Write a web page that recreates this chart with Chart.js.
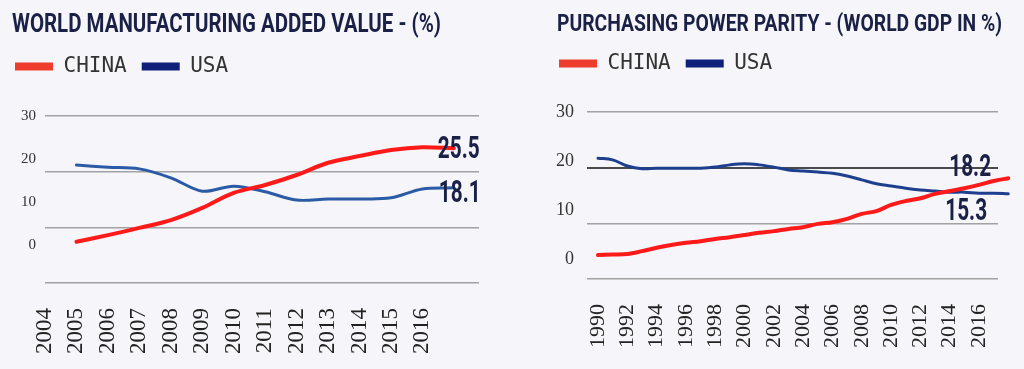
<!DOCTYPE html>
<html>
<head>
<meta charset="utf-8">
<script src="https://cdn.jsdelivr.net/npm/chart.js@4.4.1/dist/chart.umd.min.js"></script>
<style>
  html, body { margin: 0; padding: 0; background: #f5f5fa; }
  body { width: 1024px; height: 369px; position: relative; overflow: hidden; }
  .panel { position: absolute; top: 0; width: 512px; height: 369px; }
  .title {
    position: absolute; z-index: 2; white-space: nowrap; line-height: 1;
    font-family: Roboto, sans-serif; font-weight: 700; color: #1b2146;
    transform-origin: 0 0;
  }
</style>
</head>
<body>
<div class="panel" style="left:0"><canvas id="mfg"></canvas></div>
<div class="panel" style="left:512px"><canvas id="ppp"></canvas></div>
<div class="title" data-width="429" style="left:12px;top:11px;font-size:25px">WORLD MANUFACTURING ADDED VALUE - (%)</div>
<div class="title" data-width="445" style="left:557px;top:11px;font-size:24px">PURCHASING POWER PARITY - (WORLD GDP IN %)</div>
<script>
const seriesNames = ["CHINA", "USA"];
const valueTicks = [0, 10, 20, 30];

// left: world manufacturing added value (%)
const mfgYears = [2005, 2006, 2007, 2008, 2009, 2010, 2011, 2012, 2013, 2014, 2015, 2016, 2017];
const mfgChina = [7.4, 8.6, 9.9, 11.3, 13.5, 16.2, 17.6, 19.4, 21.6, 22.8, 23.9, 24.4, 24.2];
const mfgUsa = [21.2, 20.8, 20.5, 18.9, 16.5, 17.4, 16.4, 14.9, 15.1, 15.1, 15.3, 16.9, 17.1];
const mfgTickYears = [2004, 2005, 2006, 2007, 2008, 2009, 2010, 2011, 2012, 2013, 2014, 2015, 2016];
const mfgEndLabels = ["25.5", "18.1"];

// right: purchasing power parity (world gdp in %)
const pppYears = [1990, 1991, 1992, 1993, 1994, 1995, 1996, 1997, 1998, 1999, 2000, 2001, 2002, 2003, 2004,
  2005, 2006, 2007, 2008, 2009, 2010, 2011, 2012, 2013, 2014, 2015, 2016, 2017, 2018];
const pppChina = [4.3, 4.4, 4.5, 5.0, 5.6, 6.1, 6.5, 6.8, 7.2, 7.5, 7.9, 8.3, 8.6, 9.0, 9.3,
  9.9, 10.2, 10.8, 11.7, 12.2, 13.3, 14.0, 14.5, 15.3, 15.8, 16.3, 16.9, 17.6, 18.1];
const pppUsa = [21.7, 21.4, 20.3, 19.8, 19.9, 19.9, 19.9, 19.9, 20.1, 20.5, 20.7, 20.5, 20.1, 19.6, 19.4,
  19.2, 19.0, 18.5, 17.8, 17.1, 16.7, 16.3, 16.0, 15.8, 15.6, 15.6, 15.4, 15.4, 15.3];
const pppTickYears = [1990, 1992, 1994, 1996, 1998, 2000, 2002, 2004, 2006, 2008, 2010, 2012, 2014, 2016];
const pppEndLabels = ["18.2", "15.3"];

const swatchColors = ["#ee3d2d", "#10207a"];

document.querySelectorAll(".title").forEach(el => {
    const w = el.getBoundingClientRect().width;
    el.style.transform = `scaleX(${el.dataset.width / w})`;
});

const endLabels = {
    id: "endLabels",
    afterDatasetsDraw(chart, args, opts) {
        const ctx = chart.ctx;
        opts.items.forEach(item => {
            const pts = chart.getDatasetMeta(item.dataset).data;
            const pt = pts[pts.length - 1];
            ctx.save();
            ctx.font = "bold 32px Roboto";
            ctx.fillStyle = "#1b2146";
            ctx.textBaseline = "middle";
            ctx.translate(pt.x + item.dx, pt.y + item.dy);
            ctx.scale(0.65, 1);
            ctx.fillText(item.text, 0, 0);
            ctx.restore();
        });
    }
};

function makeChart(id, s) {
    // stretch the legend box so the plot starts lower
    const legendGap = {
        id: "legendGap",
        beforeInit(chart) {
            const fit = chart.legend.fit;
            chart.legend.fit = function () {
                fit.call(this);
                this.height += s.legendExtra;
            };
        }
    };

    return new Chart(document.getElementById(id), {
        type: "line",
        data: {
            datasets: [
                {
                    label: seriesNames[0],
                    data: s.years.map((x, i) => ({ x, y: s.china[i] })),
                    borderColor: "#ff1a1a",
                    borderWidth: 4
                },
                {
                    label: seriesNames[1],
                    data: s.years.map((x, i) => ({ x, y: s.usa[i] })),
                    borderColor: s.usaColor,
                    borderWidth: 3
                }
            ]
        },
        options: {
            responsive: true,
            maintainAspectRatio: false,
            animation: false,
            clip: false,
            layout: { padding: s.padding },
            elements: {
                point: { radius: 0 },
                line: { tension: 0.35, borderCapStyle: "round" }
            },
            plugins: {
                tooltip: { enabled: false },
                legend: {
                    position: "top",
                    align: "start",
                    labels: {
                        boxWidth: 38,
                        boxHeight: 8,
                        padding: 15,
                        color: "#333",
                        font: { family: "'DejaVu Sans Mono', monospace", size: 21 },
                        generateLabels: chart =>
                            Chart.defaults.plugins.legend.labels.generateLabels(chart).map((item, i) => ({
                                ...item,
                                fillStyle: swatchColors[i],
                                strokeStyle: swatchColors[i],
                                lineWidth: 0
                            }))
                    }
                },
                endLabels: { items: s.endLabels }
            },
            scales: {
                x: {
                    type: "linear",
                    min: s.xMin,
                    max: s.xMax,
                    afterBuildTicks: sc => { sc.ticks = s.tickYears.map(v => ({ value: v })); },
                    afterFit: sc => { sc.height = s.xHeight; },
                    grid: { display: false },
                    border: { display: false },
                    ticks: {
                        minRotation: 90,
                        maxRotation: 90,
                        autoSkip: false,
                        padding: 17,
                        color: "#222",
                        font: { family: "'Liberation Serif', serif", size: s.xFont },
                        callback: v => String(v)
                    }
                },
                y: {
                    min: 0,
                    max: 30,
                    weight: 0,
                    afterBuildTicks: sc => { sc.ticks = valueTicks.map(v => ({ value: v })); },
                    afterFit: sc => { sc.width = 0; },
                    ticks: { display: false },
                    border: { display: false },
                    grid: {
                        drawTicks: false,
                        color: c => (s.darkLine === c.tick.value ? "#4a4a4a" : "#a2a2a2"),
                        lineWidth: c => (s.darkLine === c.tick.value ? 2 : 1.4)
                    }
                },
                yl: {
                    position: "left",
                    weight: 1,
                    min: s.labelMin,
                    max: s.labelMax,
                    afterBuildTicks: sc => { sc.ticks = valueTicks.map(v => ({ value: v })); },
                    afterFit: sc => { sc.width = s.labelWidth; },
                    grid: { display: false },
                    border: { display: false },
                    ticks: {
                        padding: s.labelPad,
                        color: "#333",
                        font: { family: "'Liberation Serif', serif", size: s.yFont }
                    }
                }
            }
        },
        plugins: [legendGap, endLabels]
    });
}

makeChart("mfg", {
    years: mfgYears, china: mfgChina, usa: mfgUsa, tickYears: mfgTickYears,
    usaColor: "#2c5ba6",
    padding: { top: 41, left: 0, right: 33, bottom: 0 },
    legendExtra: 29,
    xMin: 2004, xMax: 2017.8, xHeight: 86, xFont: 23,
    labelMin: -8.8, labelMax: 30, labelWidth: 45, labelPad: 1, yFont: 15,
    darkLine: null,
    endLabels: [
        { dataset: 0, text: mfgEndLabels[0], dx: -16, dy: 2 },
        { dataset: 1, text: mfgEndLabels[1], dx: -15, dy: 6 }
    ]
});

makeChart("ppp", {
    years: pppYears, china: pppChina, usa: pppUsa, tickYears: pppTickYears,
    usaColor: "#1d3f8e",
    padding: { top: 38, left: 32, right: 26, bottom: 0 },
    legendExtra: 28,
    xMin: 1989.25, xMax: 2017.3, xHeight: 90, xFont: 22,
    labelMin: -4.1, labelMax: 30.1, labelWidth: 43, labelPad: 5, yFont: 18,
    darkLine: 20,
    endLabels: [
        { dataset: 0, text: pppEndLabels[0], dx: -59, dy: -10 },
        { dataset: 1, text: pppEndLabels[1], dx: -63, dy: 18 }
    ]
});
</script>
</body>
</html>
